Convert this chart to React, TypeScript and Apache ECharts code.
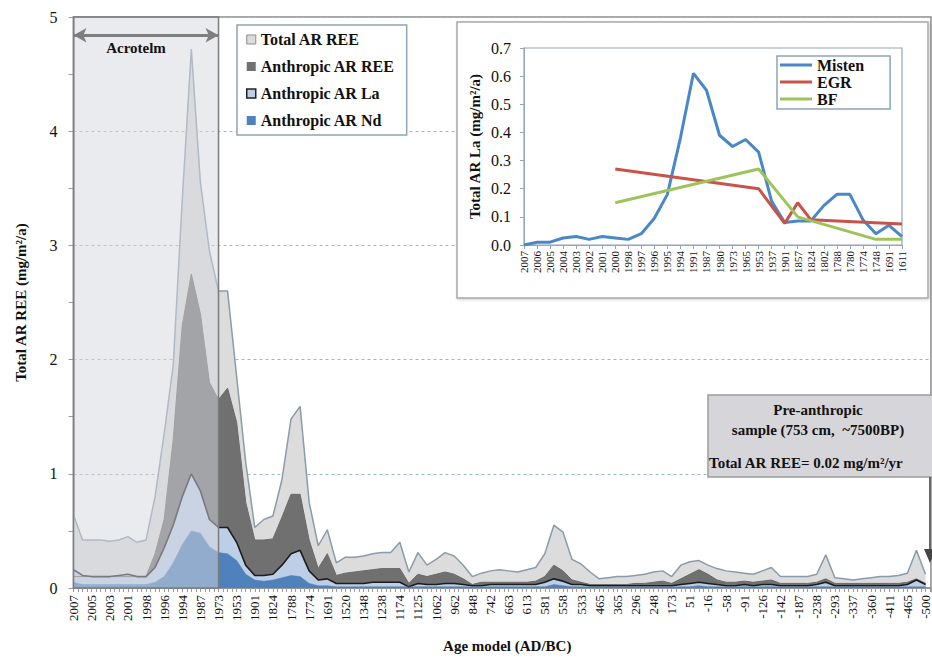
import React, { useEffect, useRef } from 'react';
import * as echarts from 'echarts';

// Age model tick labels (AD/BC), one per major tick of the main chart
const ageLabels = [
  '2007', '2005', '2003', '2001', '1998', '1996', '1994', '1987', '1973', '1953',
  '1901', '1824', '1788', '1774', '1691', '1520', '1348', '1238', '1174', '1125',
  '1062', '962', '848', '742', '663', '613', '581', '558', '533', '465',
  '365', '296', '248', '173', '51', '-16', '-58', '-91', '-126', '-142',
  '-187', '-238', '-293', '-337', '-360', '-411', '-465', '-500',
];

// Samples are spaced half a major tick apart (sample i sits at x = i / 2)
const totalRee = [
  0.64, 0.42, 0.42, 0.42, 0.41, 0.42, 0.45, 0.40, 0.42, 0.80,
  1.35, 1.95, 3.40, 4.72, 3.55, 2.95, 2.60, 2.60, 1.85, 1.10,
  0.53, 0.60, 0.63, 0.95, 1.48, 1.59, 0.75, 0.37, 0.51, 0.22,
  0.27, 0.27, 0.28, 0.30, 0.31, 0.31, 0.40, 0.14, 0.31, 0.20,
  0.25, 0.31, 0.28, 0.20, 0.10, 0.13, 0.15, 0.16, 0.15, 0.14,
  0.16, 0.18, 0.30, 0.55, 0.49, 0.25, 0.21, 0.14, 0.08, 0.09,
  0.10, 0.10, 0.11, 0.12, 0.14, 0.15, 0.10, 0.20, 0.23, 0.24,
  0.20, 0.17, 0.15, 0.14, 0.13, 0.12, 0.15, 0.18, 0.10, 0.10,
  0.10, 0.10, 0.12, 0.29, 0.09, 0.08, 0.07, 0.08, 0.09, 0.10,
  0.10, 0.11, 0.13, 0.33, 0.12,
];

const anthropicRee = [
  0.10, 0.10, 0.10, 0.10, 0.10, 0.10, 0.10, 0.10, 0.10, 0.30,
  0.60, 1.30, 2.30, 2.75, 2.40, 1.80, 1.65, 1.75, 1.45, 0.75,
  0.42, 0.42, 0.43, 0.62, 0.82, 0.82, 0.42, 0.17, 0.30, 0.11,
  0.13, 0.14, 0.15, 0.16, 0.17, 0.17, 0.17, 0.04, 0.12, 0.10,
  0.12, 0.14, 0.12, 0.08, 0.03, 0.05, 0.05, 0.05, 0.05, 0.05,
  0.05, 0.06, 0.10, 0.20, 0.15, 0.07, 0.05, 0.03, 0.03, 0.03,
  0.03, 0.03, 0.04, 0.04, 0.05, 0.06, 0.04, 0.08, 0.12, 0.16,
  0.12, 0.07, 0.05, 0.05, 0.06, 0.05, 0.06, 0.07, 0.04, 0.04,
  0.04, 0.04, 0.05, 0.08, 0.04, 0.04, 0.04, 0.04, 0.04, 0.04,
  0.04, 0.04, 0.05, 0.08, 0.04,
];

const anthropicLa = [
  0.16, 0.11, 0.10, 0.10, 0.10, 0.11, 0.12, 0.10, 0.10, 0.18,
  0.35, 0.55, 0.80, 1.00, 0.85, 0.60, 0.53, 0.53, 0.40, 0.20,
  0.11, 0.11, 0.12, 0.20, 0.30, 0.33, 0.15, 0.07, 0.08, 0.04,
  0.04, 0.04, 0.04, 0.05, 0.05, 0.05, 0.05, 0.01, 0.04, 0.03,
  0.03, 0.04, 0.04, 0.03, 0.02, 0.02, 0.03, 0.03, 0.03, 0.03,
  0.03, 0.03, 0.05, 0.08, 0.06, 0.03, 0.03, 0.02, 0.02, 0.02,
  0.02, 0.02, 0.02, 0.02, 0.02, 0.02, 0.02, 0.03, 0.04, 0.05,
  0.04, 0.03, 0.02, 0.02, 0.03, 0.02, 0.03, 0.03, 0.02, 0.02,
  0.02, 0.02, 0.03, 0.05, 0.02, 0.02, 0.02, 0.02, 0.02, 0.02,
  0.02, 0.02, 0.03, 0.07, 0.03,
];

const anthropicNd = [
  0.05, 0.03, 0.03, 0.03, 0.03, 0.03, 0.03, 0.03, 0.03, 0.05,
  0.10, 0.22, 0.38, 0.50, 0.48, 0.36, 0.31, 0.30, 0.24, 0.12,
  0.07, 0.06, 0.07, 0.09, 0.11, 0.10, 0.04, 0.02, 0.02, 0.01,
  0.01, 0.01, 0.01, 0.01, 0.01, 0.01, 0.01, 0.01, 0.01, 0.01,
  0.01, 0.01, 0.01, 0.01, 0.01, 0.01, 0.01, 0.01, 0.01, 0.01,
  0.01, 0.01, 0.01, 0.03, 0.02, 0.01, 0.01, 0.01, 0.01, 0.01,
  0.01, 0.01, 0.01, 0.01, 0.01, 0.01, 0.01, 0.01, 0.01, 0.02,
  0.01, 0.01, 0.01, 0.01, 0.01, 0.01, 0.01, 0.01, 0.01, 0.01,
  0.01, 0.01, 0.01, 0.01, 0.01, 0.01, 0.01, 0.01, 0.01, 0.01,
  0.01, 0.01, 0.01, 0.01, 0.01,
];

// Inset: La accumulation rate at three sites
const insetYears = [
  '2007', '2006', '2005', '2004', '2003', '2002', '2001', '2000', '1998', '1997',
  '1996', '1995', '1994', '1991', '1987', '1980', '1973', '1965', '1953', '1937',
  '1901', '1857', '1824', '1802', '1788', '1780', '1774', '1748', '1691', '1611',
];
const misten = [
  0.0, 0.01, 0.01, 0.025, 0.03, 0.02, 0.03, 0.025, 0.02, 0.04,
  0.095, 0.18, 0.38, 0.61, 0.55, 0.39, 0.35, 0.375, 0.33, 0.155,
  0.08, 0.085, 0.085, 0.14, 0.18, 0.18, 0.09, 0.04, 0.07, 0.03,
];
const egr = [
  null, null, null, null, null, null, null, 0.27, null, null,
  null, null, null, null, null, null, null, null, 0.20, null,
  0.077, 0.15, 0.09, null, null, null, null, null, null, 0.075,
];
const bf = [
  null, null, null, null, null, null, null, 0.15, null, null,
  null, null, null, null, null, null, null, null, 0.27, null,
  null, 0.10, null, null, null, null, null, 0.02, null, 0.02,
];

// Acrotelm spans the first eight major ticks (2007 to 1973)
const acrotelmRange = [0, 8];

const SERIF = '"Liberation Serif", "Times New Roman", serif';
const INK = '#111111';

export default function App() {
  const ref = useRef<HTMLDivElement>(null);

  useEffect(() => {
    if (!ref.current) return;
    const chart = echarts.init(ref.current, null, { renderer: 'svg' });
    const pts = (arr: number[]) => arr.map((v, i) => [i / 2, v]);

    const option: any = {
      animation: false,
      grid: [
        {
          left: 73.5, top: 17, right: 0, height: 574,
          show: true, borderColor: '#8c8c8c', borderWidth: 1.5, backgroundColor: 'transparent',
        },
        {
          left: 524, top: 48, width: 378, height: 197,
          show: true, borderColor: '#93a6ba', borderWidth: 1.2, backgroundColor: '#ffffff', z: 7,
        },
      ],
      xAxis: [
        {
          type: 'value', gridIndex: 0, min: 0, max: 47.3, interval: 1,
          axisLine: { show: true, onZero: false, lineStyle: { color: '#8c8c8c', width: 1.5 } },
          axisTick: { show: true, length: 4, lineStyle: { color: '#9a9a9a' } },
          minorTick: { show: true, splitNumber: 4, length: 4, lineStyle: { color: '#9a9a9a' } },
          splitLine: { show: false },
          axisLabel: {
            rotate: 90, margin: 7, fontFamily: SERIF, fontSize: 13, color: INK,
            formatter: (v: number) => {
              const r = Math.round(v);
              return Math.abs(v - r) < 1e-6 && ageLabels[r] !== undefined ? ageLabels[r] : '';
            },
          },
          name: 'Age model (AD/BC)', nameLocation: 'middle', nameGap: 50,
          nameTextStyle: { fontFamily: SERIF, fontWeight: 'bold', fontSize: 15, color: INK, padding: [0, 0, 0, 10] },
        },
        {
          type: 'category', gridIndex: 1, data: insetYears, boundaryGap: false, z: 7,
          axisLine: { show: true, lineStyle: { color: '#93a6ba' } },
          axisTick: { show: true, length: 4, interval: 0, lineStyle: { color: '#93a6ba' } },
          axisLabel: { rotate: 90, interval: 0, margin: 6, fontFamily: SERIF, fontSize: 11, color: INK },
        },
      ],
      yAxis: [
        {
          type: 'value', gridIndex: 0, min: 0, max: 5, interval: 1,
          axisLine: { show: true, lineStyle: { color: '#8c8c8c', width: 1.5 } },
          axisTick: { show: true, length: 5, lineStyle: { color: '#9a9a9a' } },
          minorTick: { show: true, splitNumber: 2, length: 5, lineStyle: { color: '#9a9a9a' } },
          splitLine: { show: true, lineStyle: { color: '#9db6cf', type: [3, 3], width: 1.2 } },
          axisLabel: { margin: 16, fontFamily: SERIF, fontSize: 16, color: INK },
          name: 'Total AR REE (mg/m²/a)', nameLocation: 'middle', nameGap: 45,
          nameTextStyle: { fontFamily: SERIF, fontWeight: 'bold', fontSize: 15, color: INK },
        },
        {
          type: 'value', gridIndex: 1, min: 0, max: 0.7, interval: 0.1, z: 7,
          axisLine: { show: true, lineStyle: { color: '#93a6ba' } },
          axisTick: { show: true, length: 4, lineStyle: { color: '#93a6ba' } },
          splitLine: { show: false },
          axisLabel: {
            margin: 13, fontFamily: SERIF, fontSize: 16, color: INK,
            formatter: (v: number) => v.toFixed(1),
          },
          name: 'Total AR La (mg/m²/a)', nameLocation: 'middle', nameGap: 42,
          nameTextStyle: { fontFamily: SERIF, fontWeight: 'bold', fontSize: 15, color: INK },
        },
      ],
      legend: [
        {
          orient: 'vertical', left: 237, top: 25, z: 5,
          icon: 'rect', itemWidth: 9, itemHeight: 9, itemGap: 10,
          padding: [6, 12, 6, 9],
          backgroundColor: '#ffffff', borderColor: '#8ea4b8', borderWidth: 1.5,
          textStyle: { fontFamily: SERIF, fontWeight: 'bold', fontSize: 16, color: INK, lineHeight: 17 },
          data: [
            { name: 'Total AR REE', itemStyle: { color: '#dcdcdc', borderColor: '#8c8c8c', borderWidth: 1 } },
            { name: 'Anthropic AR REE', itemStyle: { color: '#707070' } },
            { name: 'Anthropic AR La', itemStyle: { color: '#bccfe6', borderColor: '#222222', borderWidth: 1.5 } },
            { name: 'Anthropic AR Nd', itemStyle: { color: '#4f81bd' } },
          ],
        },
        {
          orient: 'vertical', left: 777, top: 56, z: 9,
          icon: 'rect', itemWidth: 32, itemHeight: 3, itemGap: 1,
          padding: [1, 26, 2, 3],
          backgroundColor: '#ffffff', borderColor: '#8ea4b8', borderWidth: 1.5,
          textStyle: { fontFamily: SERIF, fontWeight: 'bold', fontSize: 16, color: INK, lineHeight: 16 },
          data: ['Misten', 'EGR', 'BF'],
        },
      ],
      graphic: [
        {
          type: 'rect', z: 6,
          shape: { x: 457, y: 22, width: 471, height: 276 },
          style: {
            fill: '#ffffff', stroke: '#a8a8a8', lineWidth: 1.5,
            shadowBlur: 3, shadowColor: 'rgba(0,0,0,0.18)', shadowOffsetX: 1, shadowOffsetY: 1,
          },
        },
        {
          type: 'group', z: 6,
          children: [
            {
              type: 'rect', z: 6,
              shape: { x: 708, y: 395, width: 240, height: 82 },
              style: { fill: '#d6d6da', stroke: '#9c9c9c', lineWidth: 1.5 },
            },
            {
              type: 'text', z: 7, x: 818, y: 410,
              style: { text: 'Pre-anthropic', font: `bold 15px ${SERIF}`, fill: INK, textAlign: 'center', textVerticalAlign: 'middle' },
            },
            {
              type: 'text', z: 7, x: 818, y: 430,
              style: { text: 'sample (753 cm,  ~7500BP)', font: `bold 15px ${SERIF}`, fill: INK, textAlign: 'center', textVerticalAlign: 'middle' },
            },
            {
              type: 'text', z: 7, x: 709, y: 463,
              style: { text: 'Total AR REE= 0.02 mg/m²/yr', font: `bold 15px ${SERIF}`, fill: INK, textAlign: 'left', textVerticalAlign: 'middle' },
            },
            {
              type: 'line', z: 6,
              shape: { x1: 930, y1: 477, x2: 930, y2: 551 },
              style: { stroke: '#666666', lineWidth: 2 },
            },
            {
              type: 'polygon', z: 6,
              shape: { points: [[924, 549], [936, 549], [930, 563]] },
              style: { fill: '#444444' },
            },
          ],
        },
      ],
      series: [
        {
          name: 'Total AR REE', type: 'line', xAxisIndex: 0, yAxisIndex: 0, z: 2,
          data: pts(totalRee), symbol: 'none', silent: true,
          color: '#dcdcdc',
          lineStyle: { color: '#8a9bab', width: 1.5 },
          areaStyle: { color: '#dcdcdc', opacity: 1 },
        },
        {
          name: 'Anthropic AR REE', type: 'line', xAxisIndex: 0, yAxisIndex: 0, z: 2,
          data: pts(anthropicRee), symbol: 'none', silent: true,
          color: '#707070',
          lineStyle: { color: '#6a6a6a', width: 1 },
          areaStyle: { color: '#707070', opacity: 1 },
        },
        {
          name: 'Anthropic AR La', type: 'line', xAxisIndex: 0, yAxisIndex: 0, z: 2,
          data: pts(anthropicLa), symbol: 'none', silent: true,
          color: '#bccfe6',
          lineStyle: { color: '#1c1c1c', width: 1.6 },
          areaStyle: { color: '#bccfe6', opacity: 1 },
        },
        {
          name: 'Anthropic AR Nd', type: 'line', xAxisIndex: 0, yAxisIndex: 0, z: 2,
          data: pts(anthropicNd), symbol: 'none', silent: true,
          color: '#4f81bd',
          lineStyle: { color: '#4f81bd', width: 0.5 },
          areaStyle: { color: '#4f81bd', opacity: 1 },
          markArea: {
            z: 3, silent: true,
            itemStyle: { color: 'rgba(214,216,224,0.5)', borderColor: '#7c7c7c', borderWidth: 1.5 },
            label: {
              show: true, position: 'insideTop', offset: [-10, 19],
              fontFamily: SERIF, fontWeight: 'bold', fontSize: 15, color: INK,
            },
            data: [[{ name: 'Acrotelm', xAxis: acrotelmRange[0] }, { xAxis: acrotelmRange[1] }]],
          },
          markLine: {
            silent: true, symbol: ['arrow', 'arrow'], symbolSize: [11, 13],
            lineStyle: { color: '#7f7f7f', width: 3, type: 'solid' },
            label: { show: false },
            data: [[{ coord: [acrotelmRange[0], 4.84] }, { coord: [acrotelmRange[1], 4.84] }]],
          },
        },
        {
          name: 'Misten', type: 'line', xAxisIndex: 1, yAxisIndex: 1, z: 8,
          data: misten, symbol: 'none', silent: true, color: '#4a87c6',
          lineStyle: { color: '#4a87c6', width: 3 },
        },
        {
          name: 'EGR', type: 'line', xAxisIndex: 1, yAxisIndex: 1, z: 8,
          data: egr, connectNulls: true, symbol: 'none', silent: true, color: '#c8534a',
          lineStyle: { color: '#c8534a', width: 3 },
        },
        {
          name: 'BF', type: 'line', xAxisIndex: 1, yAxisIndex: 1, z: 8,
          data: bf, connectNulls: true, symbol: 'none', silent: true, color: '#9fc35b',
          lineStyle: { color: '#9fc35b', width: 3 },
        },
      ],
    };

    chart.setOption(option);
    return () => chart.dispose();
  }, []);

  return (
    <div
      ref={ref}
      style={{ position: 'fixed', left: 0, top: 0, width: 932, height: 658, background: '#ffffff' }}
    />
  );
}
